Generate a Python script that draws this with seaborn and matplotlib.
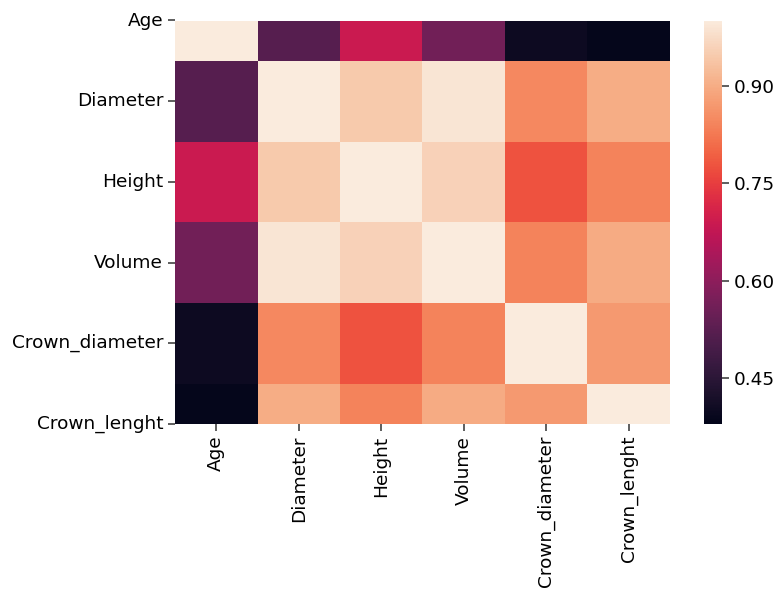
import numpy as np
import pandas as pd
import matplotlib
matplotlib.use("Agg")
import matplotlib.pyplot as plt
import seaborn as sns

# Tree measurement variables and their pairwise correlation coefficients
variables = ["Age", "Diameter", "Height", "Volume", "Crown_diameter", "Crown_lenght"]

age            = [1.000, 0.520, 0.690, 0.560, 0.400, 0.385]
diameter       = [0.520, 1.000, 0.945, 0.990, 0.845, 0.900]
height         = [0.690, 0.945, 1.000, 0.957, 0.775, 0.840]
volume         = [0.560, 0.990, 0.957, 1.000, 0.840, 0.898]
crown_diameter = [0.400, 0.845, 0.775, 0.840, 1.000, 0.870]
crown_lenght   = [0.385, 0.900, 0.840, 0.898, 0.870, 1.000]

corr = pd.DataFrame(
    [age, diameter, height, volume, crown_diameter, crown_lenght],
    index=variables, columns=variables,
)

W, H = 779, 589
fig = plt.figure(figsize=(W / 100, H / 100), dpi=100)
ax = fig.add_axes([175 / W, 1 - 424 / H, 495 / W, (424 - 20.5) / H])
cax = fig.add_axes([704 / W, 1 - 424 / H, 18 / W, (424 - 20.5) / H])

sns.heatmap(corr, ax=ax, cbar_ax=cax, cmap="rocket", vmin=0.38, vmax=1.0,
            cbar_kws={"ticks": [0.45, 0.60, 0.75, 0.90]})

# the first and last rows are shown half-height
ax.set_ylim(5.5, 0.5)

fs = 13.3
ax.set_xticklabels(variables, rotation=90, fontsize=fs)
ax.set_yticklabels(variables, rotation=0, fontsize=fs)
ax.tick_params(axis="both", length=5, width=1.1, color="#333333")
cax.tick_params(labelsize=fs, length=5, width=1.1, color="#333333")
cax.yaxis.set_major_formatter(matplotlib.ticker.FormatStrFormatter("%.2f"))

fig.savefig("out.png", dpi=100)
